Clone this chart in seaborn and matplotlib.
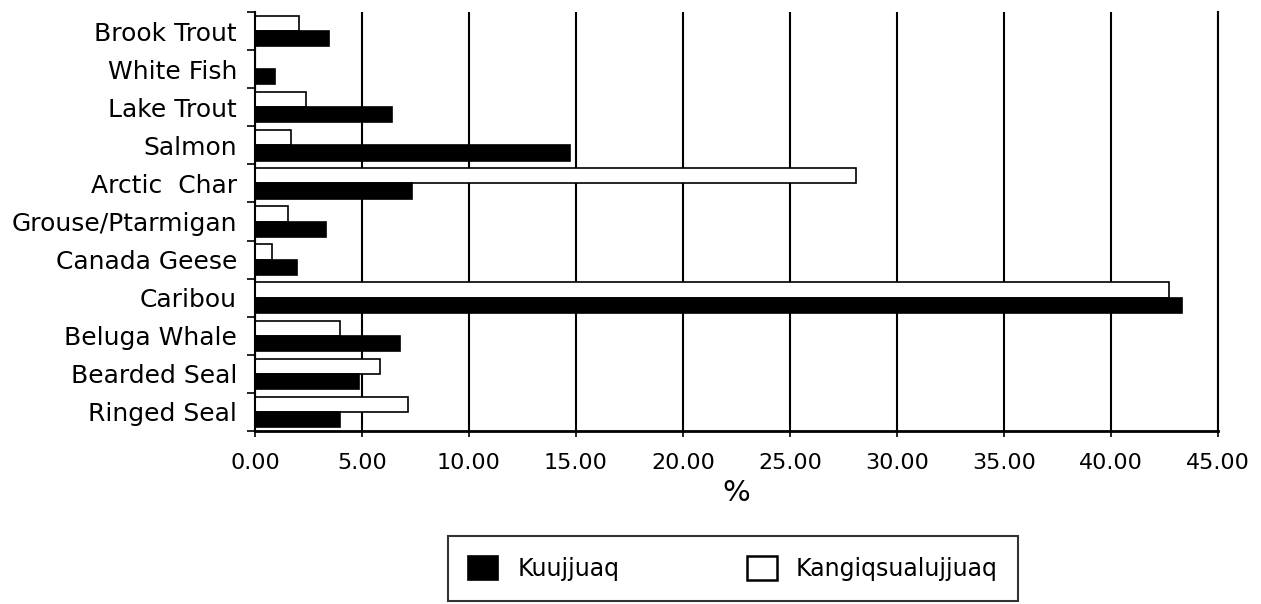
import numpy as np
import pandas as pd
import matplotlib
matplotlib.use("Agg")
import matplotlib.pyplot as plt
import seaborn as sns
from matplotlib.patches import Patch
from matplotlib.ticker import FixedLocator, FormatStrFormatter

sns.set_style("ticks")
plt.rcParams['font.family'] = ['DejaVu Sans']
plt.rcParams['text.color'] = 'black'
plt.rcParams['axes.labelcolor'] = 'black'

# species harvested, top to bottom as in the chart
species = ["Brook Trout", "White Fish", "Lake Trout", "Salmon", "Arctic  Char",
           "Grouse/Ptarmigan", "Canada Geese", "Caribou", "Beluga Whale",
           "Bearded Seal", "Ringed Seal"]
# percent of harvest
kuujjuaq = [3.45, 0.95, 6.4, 14.7, 7.35, 3.3, 1.95, 43.3, 6.8, 4.85, 3.95]
kangiqsualujjuaq = [2.05, 0.0, 2.4, 1.7, 28.1, 1.55, 0.8, 42.7, 3.95, 5.85, 7.15]
towns = ["Kuujjuaq", "Kangiqsualujjuaq"]
x_ticks = [0, 5, 10, 15, 20, 25, 30, 35, 40, 45]

df = pd.DataFrame({
    "species": species * 2,
    "pct": kangiqsualujjuaq + kuujjuaq,
    "town": ["Kangiqsualujjuaq"] * len(species) + ["Kuujjuaq"] * len(species),
})

fig = plt.figure(figsize=(12.61, 6.04), dpi=100)
ax = fig.add_axes([0.2022, 0.2864, 0.7637, 0.6937])

sns.barplot(data=df, y="species", x="pct", hue="town", order=species,
            hue_order=["Kangiqsualujjuaq", "Kuujjuaq"],
            palette={"Kangiqsualujjuaq": "white", "Kuujjuaq": "black"},
            edgecolor="black", linewidth=1.2, orient="h", legend=False,
            ax=ax, width=0.8)

ax.set_xlim(0, 45)
ax.set_ylim(10.5, -0.5)
ax.set_axisbelow(True)
ax.set_xticks(x_ticks)
ax.xaxis.set_major_formatter(FormatStrFormatter('%.2f'))
ax.xaxis.grid(True, color="black", lw=1.5)
ax.yaxis.grid(False)

for s in ["left", "bottom", "right"]:
    ax.spines[s].set_color("black")
ax.spines["top"].set_visible(False)
ax.spines["left"].set_linewidth(1.5)
ax.spines["right"].set_linewidth(1.5)
ax.spines["bottom"].set_linewidth(2)

ax.tick_params(axis="x", length=4, width=1.2, direction="out", pad=12,
               labelsize=16, colors="black")
ax.tick_params(axis="y", which="major", length=0, pad=13, labelsize=18,
               colors="black")
ax.yaxis.set_minor_locator(FixedLocator(np.arange(-0.5, 11, 1)))
ax.tick_params(axis="y", which="minor", length=6, width=1.2, direction="out",
               color="black")

ax.set_ylabel("")
ax.set_xlabel("%", fontsize=21, labelpad=4, color="black")

handles = [Patch(facecolor="black", edgecolor="black", lw=1.2, label=towns[0]),
           Patch(facecolor="white", edgecolor="black", lw=1.8, label=towns[1])]
leg = fig.legend(handles=handles, loc="center", ncol=2,
                 bbox_to_anchor=(733 / 1261, 1 - 568.5 / 604),
                 fontsize=17, frameon=True, fancybox=False, shadow=False,
                 handlelength=1.27, handleheight=1.15, handletextpad=0.8,
                 columnspacing=5.4, borderpad=0.85, labelcolor="black")
leg.get_frame().set_edgecolor("black")
leg.get_frame().set_linewidth(1.5)

fig.savefig("out.png", dpi=100)
